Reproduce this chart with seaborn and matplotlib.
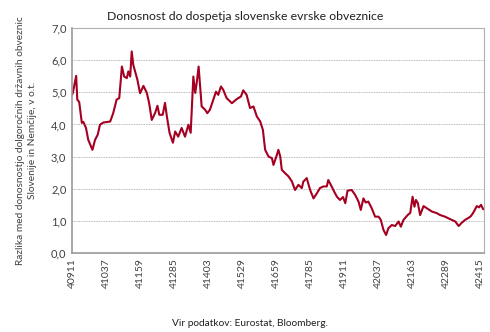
import matplotlib
matplotlib.use("Agg")
import matplotlib.pyplot as plt
import seaborn as sns
import pandas as pd

# trading-day index of each reading and the spread (percentage points)
day_index = [0, 2, 11, 14, 19, 26, 30, 37, 43, 54, 61, 68, 74, 83, 101, 109, 118, 125,
             132, 138, 145, 149, 154, 158, 162, 167, 173, 180, 189, 198, 204, 211, 220,
             226, 231, 240, 246, 251, 258, 267, 273, 281, 290, 299, 308, 314, 321, 326,
             330, 335, 339, 343, 352, 358, 365, 374, 381, 387, 394, 400, 409, 423, 436,
             447, 453, 462, 471, 480, 489, 498, 505, 511, 520, 529, 533, 542, 546, 551,
             555, 564, 573, 582, 590, 599, 608, 612, 621, 630, 639, 648, 656, 665, 674,
             678, 687, 694, 701, 709, 717, 723, 729, 740, 749, 758, 764, 771, 777, 784,
             793, 802, 811, 817, 824, 831, 837, 846, 855, 864, 870, 877, 888, 895, 901,
             906, 910, 915, 921, 930, 939, 952, 965, 974, 987, 1001, 1014, 1023, 1031,
             1040, 1054, 1061, 1071, 1077, 1082, 1088]
spread = [4.92, 4.97, 5.51, 4.77, 4.70, 4.05, 4.08, 3.89, 3.52, 3.21, 3.52, 3.68, 3.99,
          4.06, 4.09, 4.35, 4.77, 4.82, 5.80, 5.49, 5.44, 5.65, 5.49, 6.27, 5.86, 5.65,
          5.39, 4.97, 5.20, 4.98, 4.67, 4.14, 4.36, 4.58, 4.30, 4.30, 4.67, 4.25, 3.74,
          3.43, 3.78, 3.62, 3.89, 3.62, 3.99, 3.74, 5.49, 4.98, 5.30, 5.80, 5.18, 4.56,
          4.46, 4.35, 4.46, 4.77, 5.02, 4.92, 5.18, 5.08, 4.82, 4.66, 4.79, 4.87, 5.06,
          4.92, 4.51, 4.56, 4.25, 4.09, 3.83, 3.21, 3.00, 2.95, 2.74, 3.05, 3.21, 3.00,
          2.59, 2.48, 2.38, 2.22, 1.96, 2.12, 2.02, 2.22, 2.33, 1.96, 1.70, 1.86, 2.02,
          2.07, 2.07, 2.27, 2.07, 1.90, 1.75, 1.65, 1.74, 1.55, 1.94, 1.96, 1.81, 1.60,
          1.34, 1.70, 1.57, 1.60, 1.39, 1.13, 1.13, 1.03, 0.72, 0.56, 0.77, 0.87, 0.84,
          0.98, 0.82, 1.03, 1.18, 1.25, 1.75, 1.44, 1.65, 1.55, 1.18, 1.46, 1.39, 1.29,
          1.24, 1.18, 1.13, 1.05, 0.98, 0.84, 0.94, 1.03, 1.13, 1.24, 1.46, 1.42, 1.50,
          1.36]

tick_positions = [0, 90, 180, 270, 360, 450, 540, 630, 720, 810, 900, 990, 1080]
tick_labels = ["40911", "41037", "41159", "41285", "41403", "41529", "41659",
               "41785", "41911", "42037", "42163", "42289", "42415"]
y_ticks = [0, 1, 2, 3, 4, 5, 6, 7]
y_tick_labels = ["0,0", "1,0", "2,0", "3,0", "4,0", "5,0", "6,0", "7,0"]

sns.set_style("white")
plt.rcParams["font.family"] = ["Lato", "DejaVu Sans"]

df = pd.DataFrame({"idx": day_index, "spread": spread})

fig = plt.figure(figsize=(4.9, 3.32), dpi=100)
ax = fig.add_axes([72 / 490, 1 - 253 / 332, (484 - 72) / 490, (253 - 28) / 332])

sns.lineplot(data=df, x="idx", y="spread", ax=ax, color="#A50021", linewidth=1.5)

ax.set_xlim(0, 1090)
ax.set_ylim(0, 7)
ax.set_yticks(y_ticks)
ax.set_yticklabels(y_tick_labels, fontsize=8, color="#404040")
ax.set_xticks(tick_positions)
ax.set_xticklabels(tick_labels, rotation=90, fontsize=7.5, color="#404040")
ax.tick_params(axis="both", length=0, pad=4)
ax.set_xlabel("")
ax.set_ylabel("Razlika med donosnostjo dolgoročnih državnih obveznic\nSlovenije in Nemčije, v o.t.",
              fontsize=7.3, color="#404040", labelpad=10, linespacing=1.5)
ax.yaxis.grid(True, linestyle=(0, (1, 1)), color="#A0A0A0", linewidth=0.6)
ax.xaxis.grid(False)
for side in ["left", "bottom"]:
    ax.spines[side].set_color("#9A9A9A")
    ax.spines[side].set_linewidth(1.2)
for side in ["top", "right"]:
    ax.spines[side].set_color("#B0B0B0")
    ax.spines[side].set_linewidth(0.8)

fig.text(245 / 490, 1 - 16 / 332, "Donosnost do dospetja slovenske evrske obveznice",
         ha="center", va="center", fontsize=8.8, color="#202020")
fig.text(250 / 490, 1 - 323 / 332, "Vir podatkov: Eurostat, Bloomberg.",
         ha="center", va="center", fontsize=7.3, color="#202020")

fig.savefig("out.png", dpi=100)
